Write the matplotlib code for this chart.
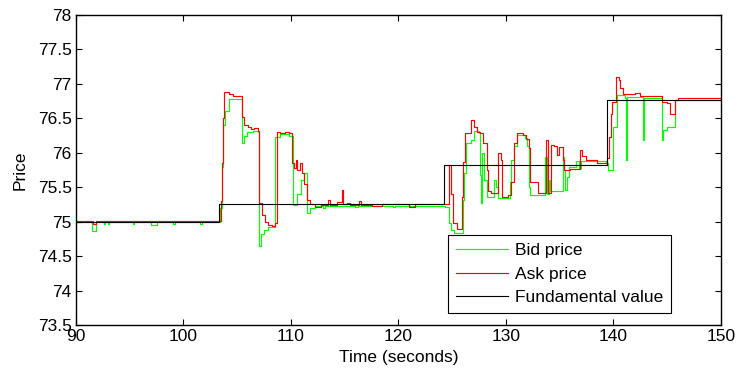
import matplotlib
matplotlib.use("Agg")
import matplotlib.pyplot as plt

plt.rcParams['font.family'] = ['Liberation Sans', 'DejaVu Sans']

# Fundamental value (step changes)
fund_t = [90.0, 103.33, 124.26, 139.36, 150.0]
fund_v = [75.00, 75.25, 75.82, 76.77, 76.77]

# Best ask quotes: (time, price)
ask_quotes = [
    (90.0, 75.01), (91.55, 74.96), (91.85, 75.01), (103.45, 75.30), (103.55, 75.85),
    (103.65, 76.50), (103.8, 76.88), (104.2, 76.85), (104.6, 76.82), (105.4, 76.52),
    (105.6, 76.40), (106.0, 76.37), (106.3, 76.34), (106.6, 76.36), (106.9, 76.32),
    (107.05, 75.27), (107.3, 75.10), (107.6, 75.00), (107.9, 74.95), (108.2, 74.93),
    (108.5, 74.98), (108.67, 76.30), (109.0, 76.28), (109.4, 76.30), (109.8, 76.28),
    (110.1, 75.85), (110.3, 75.78), (110.45, 75.90), (110.6, 75.75), (110.8, 75.85),
    (111.0, 75.70), (111.2, 75.55), (111.5, 75.32), (111.8, 75.25), (112.2, 75.22),
    (112.8, 75.24), (113.4, 75.32), (113.6, 75.24), (114.3, 75.28), (114.7, 75.46),
    (114.8, 75.26), (115.2, 75.27), (115.5, 75.24), (116.3, 75.30), (116.5, 75.24),
    (117.5, 75.23), (118.5, 75.26), (119.0, 75.25), (121.0, 75.22), (121.5, 75.25),
    (123.5, 75.25), (124.7, 75.82), (124.9, 75.40), (125.1, 74.98), (125.4, 74.90),
    (125.9, 75.36), (126.0, 75.87), (126.2, 76.28), (126.7, 76.48), (127.0, 76.38),
    (127.3, 76.30), (127.6, 76.28), (127.9, 76.14), (128.2, 75.75), (128.35, 75.45),
    (128.6, 75.42), (129.3, 75.99), (129.5, 75.90), (129.65, 75.36), (130.2, 75.38),
    (130.5, 75.58), (130.7, 76.14), (131.0, 76.28), (131.6, 76.26), (131.9, 76.20),
    (132.1, 76.07), (132.25, 75.58), (132.7, 75.58), (133.0, 75.42), (133.7, 76.18),
    (133.9, 75.41), (134.2, 76.11), (134.5, 76.10), (134.7, 75.97), (134.9, 76.09),
    (135.3, 75.90), (135.4, 75.75), (136.0, 75.77), (136.9, 76.04), (137.1, 75.95),
    (137.4, 75.90), (138.5, 75.85), (139.4, 75.92), (139.6, 76.23), (139.75, 76.57),
    (139.9, 76.74), (140.2, 77.10), (140.5, 77.05), (140.6, 76.94), (140.9, 76.86),
    (142.0, 76.87), (142.5, 76.83), (144.5, 76.74), (145.0, 76.72), (145.3, 76.57),
    (145.7, 76.77), (146.0, 76.79), (150.0, 76.78),
]

# Best bid quotes: (time, price)
bid_quotes = [
    (90.0, 75.00), (91.5, 74.87), (91.9, 75.00), (92.6, 74.96), (92.7, 75.00),
    (93.0, 74.96), (93.1, 75.00), (95.3, 74.97), (95.4, 75.00), (97.0, 74.95),
    (97.5, 75.00), (99.0, 74.97), (99.2, 75.00), (101.5, 74.97), (101.7, 75.00),
    (103.4, 75.20), (103.6, 75.80), (103.7, 76.40), (103.9, 76.60), (104.2, 76.78),
    (105.3, 76.78), (105.4, 76.14), (105.6, 76.25), (105.9, 76.30), (106.5, 76.32),
    (106.9, 76.30), (107.05, 74.64), (107.2, 74.82), (107.5, 74.88), (107.9, 74.92),
    (108.5, 74.93), (108.55, 76.23), (109.0, 76.27), (109.8, 76.25), (110.2, 75.24),
    (110.6, 75.40), (110.9, 75.60), (111.2, 75.70), (111.5, 75.12), (111.8, 75.20),
    (112.2, 75.23), (113.0, 75.20), (113.2, 75.23), (116.0, 75.21), (116.2, 75.23),
    (119.5, 75.22), (119.7, 75.23), (124.3, 75.22), (124.7, 74.98), (124.9, 74.88),
    (125.2, 74.83), (126.0, 75.31), (126.1, 75.70), (126.3, 76.14), (126.7, 76.19),
    (127.0, 76.31), (127.5, 76.28), (127.58, 75.68), (127.7, 75.27), (127.8, 75.99),
    (128.0, 75.60), (128.2, 75.36), (128.9, 75.60), (129.1, 75.51), (129.3, 75.35),
    (130.37, 75.58), (130.5, 75.90), (130.7, 76.10), (131.0, 76.26), (131.8, 76.22),
    (132.0, 76.10), (132.1, 75.51), (132.2, 75.38), (133.6, 75.94), (133.8, 75.40),
    (134.0, 75.60), (134.1, 75.44), (134.3, 75.44), (135.33, 75.94), (135.4, 75.75),
    (135.5, 75.46), (135.7, 75.65), (135.9, 75.80), (136.5, 75.88), (136.8, 75.78),
    (137.0, 75.88), (139.3, 75.85), (139.5, 75.75), (139.8, 75.75), (140.0, 76.38),
    (140.3, 76.84), (141.1, 76.80), (141.16, 75.90), (141.25, 76.81), (142.7, 76.19),
    (142.8, 76.80), (144.5, 76.19), (144.6, 76.33), (145.0, 76.38), (145.7, 76.77),
    (150.0, 76.77),
]

ask_t, ask_v = zip(*ask_quotes)
bid_t, bid_v = zip(*bid_quotes)

fig = plt.figure(figsize=(7.4, 3.76), dpi=100)
ax = fig.add_axes([0.1027, 0.1356, 0.8716, 0.8245])

ax.plot(bid_t, bid_v, drawstyle='steps-post', color='#00ff00', lw=0.85, label='Bid price')
ax.plot(ask_t, ask_v, drawstyle='steps-post', color='#ff0000', lw=0.85, label='Ask price')
ax.plot(fund_t, fund_v, drawstyle='steps-post', color='black', lw=0.8, label='Fundamental value')

ax.set_xlim(90, 150)
ax.set_ylim(73.5, 78)
ax.set_xticks([90, 100, 110, 120, 130, 140, 150])
ax.set_yticks([73.5, 74, 74.5, 75, 75.5, 76, 76.5, 77, 77.5, 78])
ax.set_yticklabels(['73.5', '74', '74.5', '75', '75.5', '76', '76.5', '77', '77.5', '78'])
ax.tick_params(direction='in', length=4, width=0.8, top=True, right=True, labelsize=12.5, pad=3)
for s in ax.spines.values():
    s.set_linewidth(1.0)

ax.set_xlabel('Time (seconds)', fontsize=12.5, labelpad=4)
ax.set_ylabel('Price', fontsize=12.5, labelpad=7)

leg = ax.legend(loc='lower right', bbox_to_anchor=(0.922, 0.039), fontsize=12.5,
                frameon=True, fancybox=False, edgecolor='black', framealpha=1,
                handlelength=3.0, handletextpad=0.4, labelspacing=0.48,
                borderpad=0.45, borderaxespad=0)
leg.get_frame().set_linewidth(0.8)

fig.savefig('out.png', dpi=100)
